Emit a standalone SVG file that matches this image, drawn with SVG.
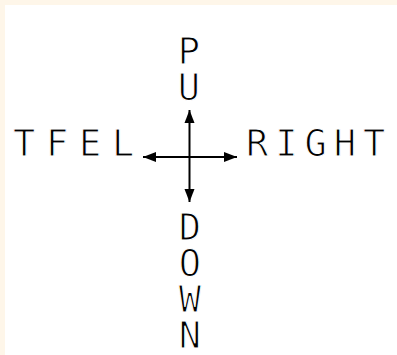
<svg xmlns="http://www.w3.org/2000/svg" width="397" height="355" viewBox="0 0 397 355">
  <style>
    .lbl { font-family: "DejaVu Sans Mono", "Liberation Mono", monospace; font-size: 37px; fill: #000; stroke: #fff; stroke-width: 1.1px; paint-order: normal; }
    .vert { writing-mode: vertical-rl; text-orientation: upright; letter-spacing: -7px; }
    .conn { stroke: #000; stroke-width: 2; fill: none; }
  </style>
  <defs>
    <marker id="arr" markerUnits="userSpaceOnUse" markerWidth="14" markerHeight="12" viewBox="0 0 14 12" refX="13" refY="6" orient="auto-start-reverse">
      <path d="M0,1 L13,6 L0,11 Z" fill="#000"/>
    </marker>
  </defs>
  <rect x="0" y="0" width="397" height="355" fill="#FEF6E9"/>
  <rect x="5" y="5" width="392" height="350" fill="#FFFFFF"/>

  <g id="connectors">
    <line class="conn" x1="189.5" y1="110" x2="189.5" y2="202" marker-start="url(#arr)" marker-end="url(#arr)"/>
    <line class="conn" x1="143" y1="157" x2="237" y2="157" marker-start="url(#arr)" marker-end="url(#arr)"/>
  </g>

  <g id="node-up">
    <text class="lbl vert" x="189" y="30">PU</text>
  </g>

  <g id="node-left">
    <text class="lbl" x="13" y="156" letter-spacing="10.7">TFEL</text>
  </g>

  <g id="node-right">
    <text class="lbl" x="246" y="156" letter-spacing="7">RIGHT</text>
  </g>

  <g id="node-down">
    <text class="lbl vert" x="190" y="206">DOWN</text>
  </g>
</svg>
